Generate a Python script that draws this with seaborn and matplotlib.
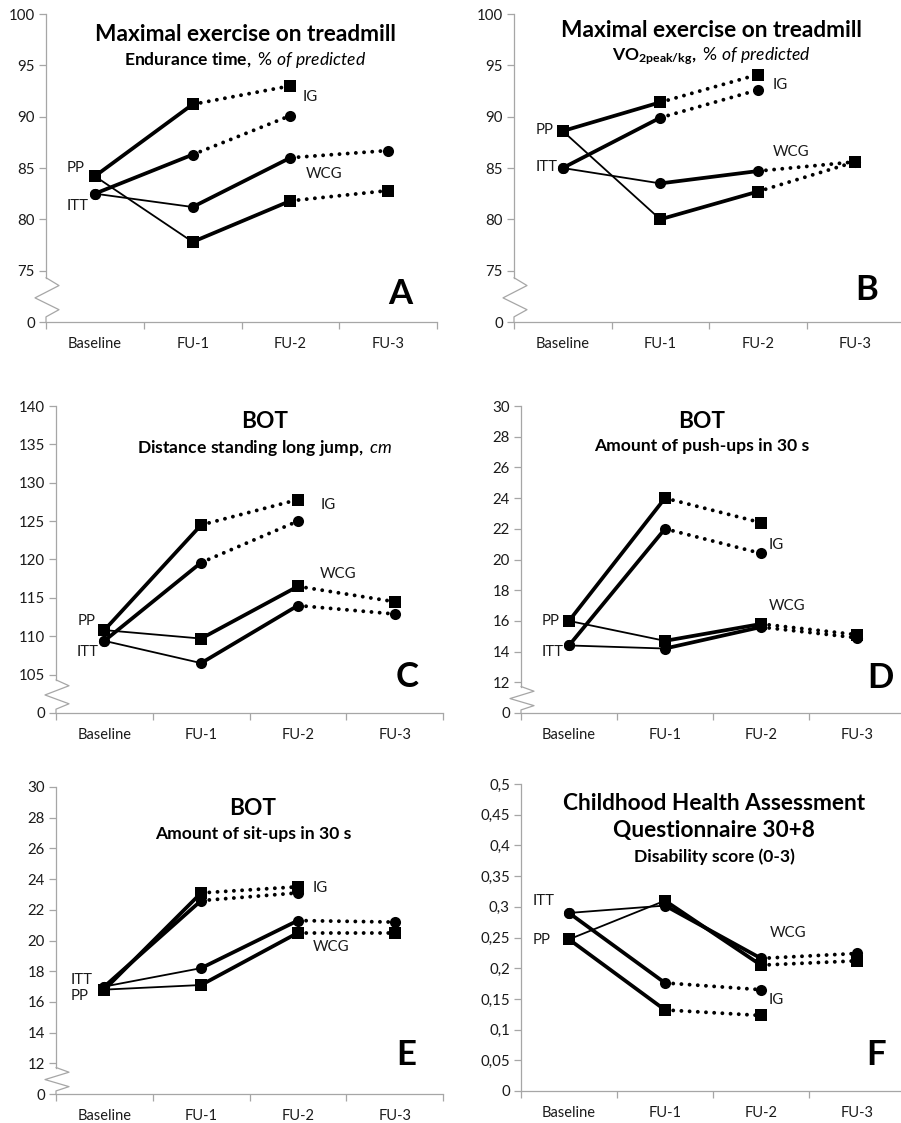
import matplotlib
matplotlib.use("Agg")
import matplotlib.pyplot as plt
import numpy as np
import pandas as pd
import seaborn as sns

# ---------------------------------------------------------------- data
visits = ["Baseline", "FU-1", "FU-2", "FU-3"]

# A: endurance time, % of predicted
a_ig_pp = [84.2, 91.2, 93.0]
a_ig_itt = [82.5, 86.3, 90.1]
a_wcg_pp = [84.2, 77.8, 81.8, 82.8]
a_wcg_itt = [82.5, 81.2, 86.0, 86.7]

# B: VO2peak/kg, % of predicted
b_ig_pp = [88.6, 91.4, 94.1]
b_ig_itt = [85.0, 89.9, 92.6]
b_wcg_pp = [88.6, 80.0, 82.7, 85.6]
b_wcg_itt = [85.0, 83.5, 84.7, 85.6]

# C: standing long jump, cm
c_ig_pp = [110.8, 124.5, 127.8]
c_ig_itt = [109.4, 119.6, 125.0]
c_wcg_pp = [110.8, 109.7, 116.5, 114.5]
c_wcg_itt = [109.4, 106.5, 114.0, 112.9]

# D: push-ups in 30 s
d_ig_pp = [16.0, 24.0, 22.4]
d_ig_itt = [14.4, 22.0, 20.4]
d_wcg_pp = [16.0, 14.7, 15.8, 15.1]
d_wcg_itt = [14.4, 14.2, 15.6, 14.9]

# E: sit-ups in 30 s
e_ig_pp = [16.8, 23.1, 23.5]
e_ig_itt = [17.0, 22.6, 23.1]
e_wcg_pp = [16.8, 17.1, 20.5, 20.5]
e_wcg_itt = [17.0, 18.2, 21.3, 21.2]

# F: CHAQ disability score
f_ig_pp = [0.247, 0.132, 0.123]
f_ig_itt = [0.290, 0.176, 0.165]
f_wcg_pp = [0.247, 0.310, 0.205, 0.212]
f_wcg_itt = [0.290, 0.302, 0.216, 0.224]

# y tick values and labels (lowest tick sits below an axis break where shown)
yt_pct = [70, 75, 80, 85, 90, 95, 100]
yl_pct = ["0", "75", "80", "85", "90", "95", "100"]
yt_jump = [100, 105, 110, 115, 120, 125, 130, 135, 140]
yl_jump = ["0", "105", "110", "115", "120", "125", "130", "135", "140"]
yt_count = [10, 12, 14, 16, 18, 20, 22, 24, 26, 28, 30]
yl_count = ["0", "12", "14", "16", "18", "20", "22", "24", "26", "28", "30"]
yt_chaq = [0, 0.05, 0.1, 0.15, 0.2, 0.25, 0.3, 0.35, 0.4, 0.45, 0.5]
yl_chaq = ["0", "0,05", "0,1", "0,15", "0,2", "0,25", "0,3", "0,35", "0,4", "0,45", "0,5"]

# ---------------------------------------------------------------- style
sns.set_theme(style="white")
plt.rcParams["font.family"] = ["Lato", "DejaVu Sans"]
plt.rcParams["mathtext.fontset"] = "custom"
plt.rcParams["mathtext.rm"] = "Lato"
plt.rcParams["mathtext.bf"] = "Lato:bold"
plt.rcParams["mathtext.it"] = "Lato:italic"

AXIS_GREY = "#a6a6a6"
TXT = "#1a1a1a"
THICK, THIN, DOT = 2.7, 1.3, 2.8
TITLE_SIZE, SUB_SIZE = 16.3, 12.6

FIG_W, FIG_H = 901, 1123
fig = plt.figure(figsize=(FIG_W / 100, FIG_H / 100), dpi=100)
fig.patch.set_facecolor("white")


def make_axes(left, right, top, bottom):
    return fig.add_axes([left / FIG_W, 1 - bottom / FIG_H,
                         (right - left) / FIG_W, (bottom - top) / FIG_H])


def series_frame(values, group, analysis):
    return pd.DataFrame({"pos": np.arange(len(values)), "value": values,
                         "group": group, "analysis": analysis})


def draw_segment(ax, df, i, lw, dotted):
    seg = df[df["pos"].isin([i, i + 1])]
    kws = dict(color="black", lw=lw, estimator=None, sort=False, ax=ax,
               legend=False, zorder=3)
    if dotted:
        kws.update(ls=(0, (0.01, 2.1)), dash_capstyle="round")
    else:
        kws.update(solid_capstyle="round", solid_joinstyle="round")
    sns.lineplot(data=seg, x="pos", y="value", **kws)


def draw_panel(ax, ig_pp, ig_itt, wcg_pp, wcg_itt, yticks, ylabels,
               has_break, width_px):
    frames = [series_frame(ig_pp, "IG", "PP"), series_frame(ig_itt, "IG", "ITT"),
              series_frame(wcg_pp, "WCG", "PP"), series_frame(wcg_itt, "WCG", "ITT")]
    for df in frames:
        if df["group"].iloc[0] == "IG":
            styles = [(THICK, False), (DOT, True)]
        else:
            styles = [(THIN, False), (THICK, False), (DOT, True)]
        for i, (lw, dotted) in enumerate(styles):
            draw_segment(ax, df, i, lw, dotted)
    allpts = pd.concat(frames, ignore_index=True)
    sns.scatterplot(data=allpts[allpts["analysis"] == "PP"], x="pos", y="value",
                    marker="s", s=74, color="black", linewidth=0, ax=ax,
                    legend=False, zorder=5)
    sns.scatterplot(data=allpts[allpts["analysis"] == "ITT"], x="pos", y="value",
                    marker="o", s=64, color="black", linewidth=0, ax=ax,
                    legend=False, zorder=5)

    ax.set_xlim(-0.5, 3.5)
    ax.set_ylim(yticks[0], yticks[-1])
    ax.set_xticks(range(len(visits)), labels=visits)
    ax.set_xticks(np.arange(-0.5, 3.6, 1.0), minor=True)
    ax.set_yticks(yticks, labels=ylabels)
    ax.set_xlabel("")
    ax.set_ylabel("")
    ax.tick_params(axis="x", which="major", length=0, pad=11,
                   labelsize=10.5, labelcolor=TXT)
    ax.tick_params(axis="x", which="minor", length=5, width=0.9,
                   color=AXIS_GREY, direction="out", bottom=True)
    ax.tick_params(axis="y", length=5, width=0.9, color=AXIS_GREY, pad=3,
                   labelsize=10.8, labelcolor=TXT, direction="out", left=True)
    for side in ("top", "right"):
        ax.spines[side].set_visible(False)
    for side in ("left", "bottom"):
        ax.spines[side].set_color(AXIS_GREY)
        ax.spines[side].set_linewidth(0.9)
    ax.set_facecolor("white")

    if has_break:
        lo, hi = yticks[0], yticks[1]
        gap = hi - lo
        ax.spines["left"].set_bounds(hi - 0.137 * gap, yticks[-1])
        fx = [0, 13 / width_px, -11 / width_px, 13 / width_px, 0, 0]
        fy = [hi - 0.137 * gap, hi - 0.29 * gap, hi - 0.53 * gap,
              hi - 0.76 * gap, hi - 0.9 * gap, lo]
        ax.plot(fx, fy, color=AXIS_GREY, lw=0.9, transform=ax.get_yaxis_transform(),
                clip_on=False, zorder=2)


def group_labels(ax, items):
    for x, y, s in items:
        ax.text(x, y, s, ha="left", va="center", fontsize=10.8, color=TXT)


def titles(ax, x, lines):
    for y, s, size in lines:
        ax.text(x, y, s, transform=ax.transAxes, ha="center", va="center",
                fontsize=size, fontweight="bold", color="black")


def panel_letter(ax, x, y, s):
    ax.text(x, y, s, transform=ax.transAxes, ha="center", va="center",
            fontsize=25, fontweight="bold", color="black")


# ---------------------------------------------------------------- panel A
axA = make_axes(46, 437, 14, 322)
draw_panel(axA, a_ig_pp, a_ig_itt, a_wcg_pp, a_wcg_itt, yt_pct, yl_pct, True, 391)
titles(axA, 0.51, [(0.935, "Maximal exercise on treadmill", TITLE_SIZE),
                   (0.851, r"$\mathbf{Endurance\ time,}\ \mathit{\%\ of\ predicted}$", SUB_SIZE)])
group_labels(axA, [(-0.29, 85.0, "PP"), (-0.29, 81.3, "ITT"),
                   (2.13, 91.9, "IG"), (2.16, 84.4, "WCG")])
panel_letter(axA, 0.905, 0.091, "A")

# ---------------------------------------------------------------- panel B
axB = make_axes(514, 904, 14, 322)
draw_panel(axB, b_ig_pp, b_ig_itt, b_wcg_pp, b_wcg_itt, yt_pct, yl_pct, True, 390)
titles(axB, 0.505, [(0.948, "Maximal exercise on treadmill", TITLE_SIZE),
                    (0.862, r"$\mathbf{VO_{2peak/kg},}\ \mathit{\%\ of\ predicted}$", SUB_SIZE)])
group_labels(axB, [(-0.28, 88.7, "PP"), (-0.28, 85.1, "ITT"),
                   (2.15, 93.1, "IG"), (2.15, 86.6, "WCG")])
panel_letter(axB, 0.905, 0.104, "B")

# ---------------------------------------------------------------- panel C
axC = make_axes(56, 443, 406, 713)
draw_panel(axC, c_ig_pp, c_ig_itt, c_wcg_pp, c_wcg_itt, yt_jump, yl_jump, True, 387)
titles(axC, 0.54, [(0.948, "BOT", TITLE_SIZE),
                   (0.863, r"$\mathbf{Distance\ standing\ long\ jump,}\ \mathit{cm}$", SUB_SIZE)])
group_labels(axC, [(-0.28, 112.0, "PP"), (-0.29, 108.0, "ITT"),
                   (2.23, 127.1, "IG"), (2.23, 118.1, "WCG")])
panel_letter(axC, 0.907, 0.117, "C")

# ---------------------------------------------------------------- panel D
axD = make_axes(521, 905, 406, 713)
draw_panel(axD, d_ig_pp, d_ig_itt, d_wcg_pp, d_wcg_itt, yt_count, yl_count, True, 384)
titles(axD, 0.471, [(0.951, "BOT", TITLE_SIZE),
                    (0.870, "Amount of push-ups in 30 s", SUB_SIZE)])
group_labels(axD, [(-0.28, 16.0, "PP"), (-0.28, 14.0, "ITT"),
                   (2.08, 20.95, "IG"), (2.08, 17.0, "WCG")])
panel_letter(axD, 0.935, 0.114, "D")

# ---------------------------------------------------------------- panel E
axE = make_axes(56, 443, 787, 1094)
draw_panel(axE, e_ig_pp, e_ig_itt, e_wcg_pp, e_wcg_itt, yt_count, yl_count, True, 387)
titles(axE, 0.509, [(0.930, "BOT", TITLE_SIZE),
                    (0.847, "Amount of sit-ups in 30 s", SUB_SIZE)])
group_labels(axE, [(-0.35, 17.45, "ITT"), (-0.35, 16.4, "PP"),
                   (2.15, 23.45, "IG"), (2.15, 19.6, "WCG")])
panel_letter(axE, 0.904, 0.127, "E")

# ---------------------------------------------------------------- panel F
axF = make_axes(521, 905, 784, 1091)
draw_panel(axF, f_ig_pp, f_ig_itt, f_wcg_pp, f_wcg_itt, yt_chaq, yl_chaq, False, 384)
titles(axF, 0.503, [(0.938, "Childhood Health Assessment", TITLE_SIZE),
                    (0.847, "Questionnaire 30+8", TITLE_SIZE),
                    (0.762, "Disability score (0-3)", SUB_SIZE)])
group_labels(axF, [(-0.375, 0.309, "ITT"), (-0.375, 0.246, "PP"),
                   (2.09, 0.258, "WCG"), (2.08, 0.148, "IG")])
panel_letter(axF, 0.924, 0.117, "F")

fig.savefig("out.png", dpi=100, facecolor="white")
